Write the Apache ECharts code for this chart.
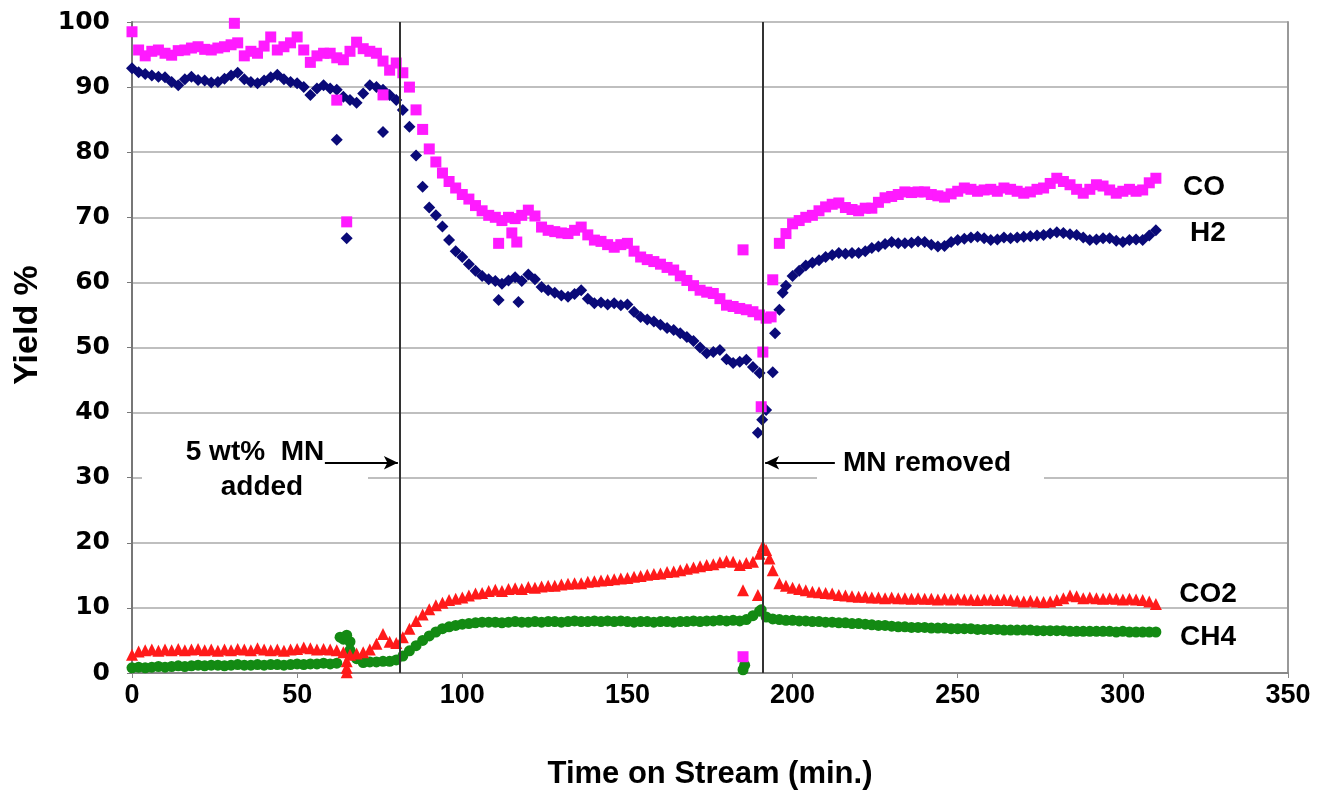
<!DOCTYPE html>
<html>
<head>
<meta charset="utf-8">
<script src="https://cdn.jsdelivr.net/npm/echarts@6/dist/echarts.min.js"></script>
<style>
  html, body { margin: 0; padding: 0; background: #fff; }
  #chart { width: 1320px; height: 794px; }
</style>
</head>
<body>
<div id="chart"></div>
<script>
// sampling times (min)
var times = [
  0, 2, 4, 6, 8, 10, 12, 14, 16, 18,
  20, 22, 24, 26, 28, 30, 32, 34, 36, 38,
  40, 42, 44, 46, 48, 50, 52, 54, 56, 58,
  60, 62, 64, 66, 68, 70, 72, 74, 76, 78,
  80, 82, 84, 86, 88, 90, 92, 94, 96, 98,
  100, 102, 104, 106, 108, 110, 112, 114, 116, 118,
  120, 122, 124, 126, 128, 130, 132, 134, 136, 138,
  140, 142, 144, 146, 148, 150, 152, 154, 156, 158,
  160, 162, 164, 166, 168, 170, 172, 174, 176, 178,
  180, 182, 184, 186, 188, 190, 192, 194, 196, 198,
  200, 202, 204, 206, 208, 210, 212, 214, 216, 218,
  220, 222, 224, 226, 228, 230, 232, 234, 236, 238,
  240, 242, 244, 246, 248, 250, 252, 254, 256, 258,
  260, 262, 264, 266, 268, 270, 272, 274, 276, 278,
  280, 282, 284, 286, 288, 290, 292, 294, 296, 298,
  300, 302, 304, 306, 308, 310
];

var coYield = [
  98.5, 95.7, 94.8, 95.5, 95.7, 95.2, 94.9, 95.6, 95.7, 96.0,
  96.2, 95.8, 95.7, 96.0, 96.2, 96.5, 96.8, 94.8, 95.5, 95.2,
  96.3, 97.7, 95.7, 96.2, 96.8, 97.7, 95.7, 93.8, 94.8, 95.2,
  95.2, 94.5, 94.2, 95.5, 96.9, 95.9, 95.5, 95.2, 94.0, 92.6,
  93.7, 92.2, 90.0, 86.5, 83.5, 80.5, 78.5, 76.8, 75.5, 74.5,
  73.5, 72.8, 71.8, 71.0, 70.3, 70.0, 69.5, 70.0, 69.8, 70.3,
  71.1, 70.2, 68.5, 68.0, 67.8, 67.6, 67.5, 68.0, 68.5, 67.3,
  66.5, 66.3, 65.8, 65.4, 65.8, 66.0, 64.8, 63.9, 63.5, 63.2,
  62.8, 62.3, 61.9, 61.0, 60.3, 59.5, 58.8, 58.5, 58.3, 57.5,
  56.5, 56.3, 56.0, 55.8, 55.5, 55.0, 54.5, 60.4, 66.0, 67.5,
  69.0, 69.5, 70.0, 70.3, 71.0, 71.6, 72.0, 72.2, 71.5, 71.2,
  71.0, 71.4, 71.4, 72.3, 73.0, 73.2, 73.5, 73.9, 73.8, 73.9,
  73.9, 73.5, 73.3, 73.1, 73.6, 74.0, 74.5, 74.3, 74.0, 74.2,
  74.3, 74.0, 74.5, 74.3, 74.0, 73.7, 73.9, 74.3, 74.5, 75.2,
  76.0, 75.5, 75.0, 74.3, 73.7, 74.3, 75.0, 74.8, 74.2, 73.7,
  74.0, 74.3, 74.0, 74.2, 75.3, 76.0
];

var h2Yield = [
  92.9, 92.3, 92.0, 91.8, 91.6, 91.5, 90.8, 90.3, 91.2, 91.6,
  91.1, 91.0, 90.7, 90.8, 91.3, 91.8, 92.2, 91.2, 90.8, 90.6,
  91.0, 91.5, 91.9, 91.2, 90.8, 90.6, 90.0, 88.8, 89.8, 90.3,
  89.8, 89.6, 88.5, 88.0, 87.6, 89.0, 90.3, 90.0, 89.6, 88.8,
  88.0, 86.5, 83.9, 79.5, 74.7, 71.5, 70.3, 68.6, 66.5, 64.8,
  63.9, 62.8, 61.8, 61.0, 60.5, 60.2, 59.8, 60.3, 60.8, 60.2,
  61.2, 60.5, 59.3, 58.8, 58.4, 58.0, 57.8, 58.2, 58.8, 57.5,
  56.8, 56.9, 56.6, 56.8, 56.5, 56.6, 55.5, 54.7, 54.3, 54.0,
  53.5, 53.0, 52.7, 52.2, 51.6, 51.0, 50.0, 49.1, 49.3, 49.6,
  48.2, 47.6, 47.8, 48.1, 47.0, 46.1, 40.4, 46.2, 55.8, 59.5,
  61.0, 61.8, 62.6, 63.0, 63.4, 63.9, 64.2, 64.5, 64.4, 64.5,
  64.5, 64.8, 65.3, 65.5, 65.9, 66.2, 66.0, 66.0, 66.1, 66.3,
  66.2, 65.8, 65.5, 65.6, 66.2, 66.5, 66.7, 66.9, 67.0, 66.8,
  66.5, 66.6, 66.9, 66.8, 66.9, 67.0, 67.1, 67.2, 67.3, 67.5,
  67.7, 67.6, 67.4, 67.3, 66.9, 66.5, 66.6, 66.8, 66.8, 66.4,
  66.2, 66.5, 66.6, 66.5, 67.2, 68.0
];

var co2Yield = [
  2.8, 3.3, 3.5, 3.6, 3.4, 3.6, 3.5, 3.7, 3.5, 3.6,
  3.7, 3.5, 3.6, 3.4, 3.6, 3.5, 3.7, 3.6, 3.5, 3.8,
  3.6, 3.5, 3.6, 3.4, 3.6, 3.7, 3.9, 3.8, 3.6, 3.7,
  3.6, 3.5, 3.2, 2.8, 3.0, 3.2, 3.6, 4.5, 6.0, 4.8,
  4.6, 5.5, 6.8, 8.0, 9.0, 9.8, 10.4, 10.8, 11.2, 11.4,
  11.6, 11.9, 12.2, 12.3, 12.6, 12.8, 12.6, 12.9, 13.0, 12.9,
  13.2, 13.1, 13.3, 13.4, 13.4, 13.6, 13.7, 13.8, 13.8, 14.0,
  14.1, 14.2, 14.3, 14.4, 14.5, 14.6, 14.8, 14.9, 15.1, 15.2,
  15.3, 15.5, 15.6, 15.8, 16.0, 16.2, 16.4, 16.6, 16.7, 17.0,
  17.2, 17.1, 16.6, 16.9, 17.1, 18.3, 18.9, 15.8, 13.8, 13.4,
  13.1, 12.9, 12.7, 12.5, 12.4, 12.3, 12.2, 12.0, 11.9, 11.8,
  11.7, 11.7, 11.6, 11.6, 11.5, 11.6, 11.5, 11.5, 11.4, 11.5,
  11.4, 11.4, 11.3, 11.4, 11.3, 11.4, 11.3, 11.3, 11.2, 11.3,
  11.3, 11.2, 11.3, 11.2, 11.1, 11.0, 11.1, 11.0, 10.9, 11.0,
  11.2, 11.5, 11.9, 11.8, 11.5, 11.6, 11.5, 11.4, 11.5, 11.4,
  11.3, 11.4, 11.3, 11.2, 11.0, 10.6
];

var ch4Yield = [
  0.8, 0.9, 0.8, 0.9, 1.0, 0.9, 1.0, 1.1, 1.0, 1.1,
  1.2, 1.1, 1.2, 1.2, 1.1, 1.2, 1.3, 1.2, 1.2, 1.3,
  1.2, 1.3, 1.3, 1.2, 1.3, 1.4, 1.3, 1.4, 1.4, 1.5,
  1.4, 1.5, 5.2, 4.8, 2.2, 1.6, 1.7, 1.7, 1.8, 1.8,
  2.0, 2.6, 3.4, 4.2, 5.0, 5.7, 6.3, 6.8, 7.1, 7.3,
  7.5, 7.6, 7.7, 7.8, 7.8, 7.8, 7.7, 7.8, 7.9, 7.8,
  7.8, 7.9, 7.8, 7.9, 7.9, 7.8, 7.9, 8.0, 7.9, 7.9,
  8.0, 7.9, 8.0, 7.9, 8.0, 7.9, 7.8, 7.9, 7.9, 7.8,
  7.9, 7.9, 7.8, 7.9, 7.9, 8.0, 7.9, 8.0, 8.0, 8.1,
  8.0, 8.1, 8.0, 8.2, 8.8, 9.5, 8.6, 8.3, 8.2, 8.1,
  8.1, 8.0, 8.0, 7.9, 7.9, 7.8, 7.8, 7.7, 7.7, 7.6,
  7.6, 7.5, 7.4, 7.3, 7.3, 7.2, 7.1, 7.1, 7.0, 7.0,
  7.0, 6.9, 6.9, 6.9, 6.8, 6.8, 6.8, 6.8, 6.7, 6.7,
  6.7, 6.7, 6.6, 6.6, 6.6, 6.6, 6.6, 6.5, 6.5, 6.5,
  6.5, 6.5, 6.4, 6.4, 6.4, 6.4, 6.4, 6.4, 6.4, 6.3,
  6.4, 6.3, 6.3, 6.3, 6.3, 6.3
];

// stray readings off the main trend [time, yield]
var coStray = [[31, 99.8], [62, 88.0], [65, 69.3], [76, 88.8], [111, 66.0], [115, 67.6], [116.5, 66.2],
  [185, 65.0], [185, 2.5], [190.5, 40.9], [191, 49.3], [193.5, 54.7]];
var h2Stray = [[62, 81.9], [65, 66.8], [76, 83.1], [111, 57.3], [117, 57.0],
  [189.5, 36.9], [190.8, 38.9], [194.7, 52.2], [197, 58.4]];
var co2Stray = [[65, 1.8], [65, 0.8], [65, 0.1], [185, 12.7], [189.5, 12.0], [191, 19.5], [193, 17.6]];
var ch4Stray = [[63, 5.5], [65, 5.8], [66, 3.5], [67, 2.8], [185, 0.5], [185.5, 1.2], [190.5, 9.7]];

var xTicks = [0, 50, 100, 150, 200, 250, 300, 350];
var mnAdded = 81, mnRemoved = 191;

function pairs(vals, extra) {
  return times.map(function (t, i) { return [t, vals[i]]; }).concat(extra);
}

var font = '"Liberation Sans", Arial, sans-serif';
var wideFont = '"DejaVu Sans", sans-serif';
var chart = echarts.init(document.getElementById('chart'));

function label(txt, x, y, align) {
  return { type: 'text', z: 5, x: x, y: y,
    style: { text: txt, font: 'bold 28px ' + font, fill: '#000', align: align || 'center', verticalAlign: 'middle' } };
}

var option = {
  animation: false,
  backgroundColor: '#fff',
  grid: { left: 132, right: 32, top: 22, bottom: 121, containLabel: false, outerBoundsMode: 'none' },
  xAxis: {
    type: 'value', min: 0, max: 350, interval: 50,
    name: 'Time on Stream (min.)', nameLocation: 'middle', nameGap: 86,
    nameTextStyle: { fontFamily: font, fontWeight: 'bold', fontSize: 31, color: '#000' },
    axisLine: { lineStyle: { color: '#888', width: 2 } },
    axisTick: { show: true, length: 5, lineStyle: { color: '#888' } },
    axisLabel: {
      margin: 9, fontFamily: font, fontWeight: 'bold', fontSize: 27, color: '#000',
      customValues: xTicks
    },
    splitLine: { show: false }
  },
  yAxis: [{
    type: 'value', min: 0, max: 100, interval: 10,
    axisLine: { show: true, lineStyle: { color: '#777', width: 2 } },
    axisTick: { show: true, length: 5, lineStyle: { color: '#777' } },
    axisLabel: { margin: 22, fontFamily: wideFont, fontWeight: 'bold', fontSize: 25, color: '#000' },
    splitLine: { lineStyle: { color: '#aaa', width: 1.5 } }
  }, {
    type: 'value', min: 0, max: 100, interval: 10, position: 'right',
    axisLine: { show: true, lineStyle: { color: '#999', width: 2 } },
    axisTick: { show: false }, axisLabel: { show: false }, splitLine: { show: false }
  }],
  series: [{
    name: 'CH4', type: 'scatter', symbol: 'circle', symbolSize: 11,
    itemStyle: { color: '#138a13', opacity: 1 },
    data: pairs(ch4Yield, ch4Stray),
    markLine: {
      silent: true, symbol: 'none', label: { show: false },
      lineStyle: { color: '#333', width: 2, type: 'solid' },
      data: [{ xAxis: mnAdded }, { xAxis: mnRemoved }]
    }
  }, {
    name: 'CO2', type: 'scatter', symbol: 'triangle', symbolSize: 12,
    itemStyle: { color: '#ff1a1a', opacity: 1 },
    data: pairs(co2Yield, co2Stray),
    markLine: {
      silent: true, symbol: ['none', 'arrow'], symbolSize: [10, 14], label: { show: false },
      lineStyle: { color: '#000', width: 2, type: 'solid' },
      data: [
        [{ coord: [58.4, 32.3] }, { coord: [80.5, 32.3] }],
        [{ coord: [212.8, 32.3] }, { coord: [191.7, 32.3] }]
      ]
    }
  }, {
    name: 'H2', type: 'scatter', symbol: 'diamond', symbolSize: 12,
    itemStyle: { color: '#0a0a78', opacity: 1 },
    data: pairs(h2Yield, h2Stray)
  }, {
    name: 'CO', type: 'scatter', symbol: 'rect', symbolSize: 11,
    itemStyle: { color: '#ff1aff', opacity: 1 },
    data: pairs(coYield, coStray)
  }],
  graphic: [
    { type: 'rect', z: 1, shape: { x: 142, y: 438, width: 226, height: 62 }, style: { fill: '#fff' } },
    { type: 'rect', z: 1, shape: { x: 817, y: 445, width: 227, height: 40 }, style: { fill: '#fff' } },
    { type: 'text', z: 5, x: 28, y: 325, rotation: Math.PI / 2,
      style: { text: 'Yield %', font: 'bold 34px ' + font, fill: '#000', align: 'center', verticalAlign: 'middle' } },
    label('5 wt%  MN', 255, 452),
    label('added', 262, 487),
    label('MN removed', 843, 463, 'left'),
    label('CO', 1204, 187),
    label('H2', 1208, 233),
    label('CO2', 1208, 594),
    label('CH4', 1208, 637)
  ]
};

chart.setOption(option);
</script>
</body>
</html>
